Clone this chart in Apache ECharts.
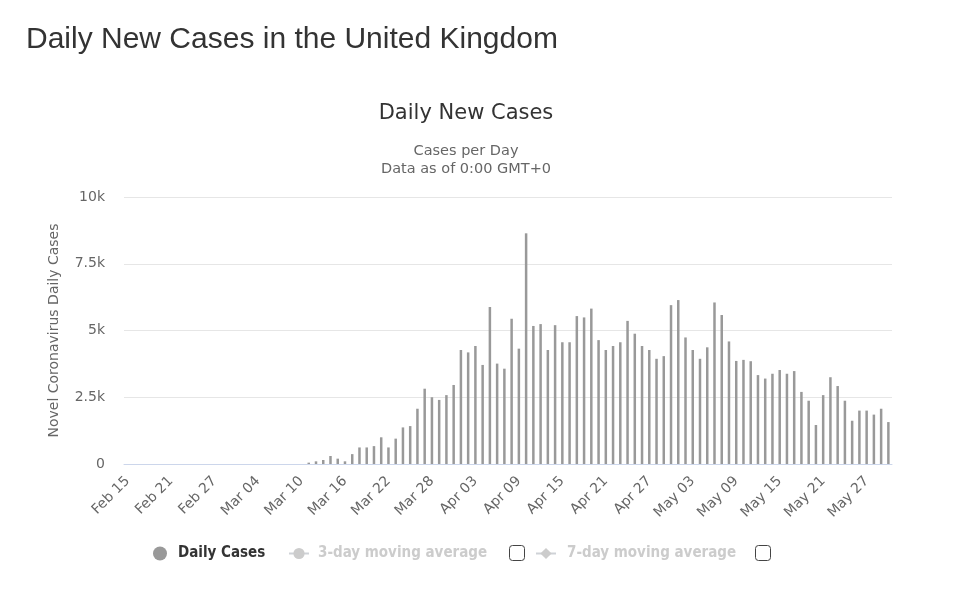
<!DOCTYPE html>
<html>
<head>
<meta charset="utf-8">
<script src="https://cdn.jsdelivr.net/npm/echarts@6/dist/echarts.min.js"></script>
<style>
html,body{margin:0;padding:0;background:#fff;}
#chart{width:969px;height:596px;}
</style>
</head>
<body>
<div id="chart"></div>
<script>
var categories = [
 "Feb 15","Feb 16","Feb 17","Feb 18","Feb 19","Feb 20","Feb 21","Feb 22","Feb 23","Feb 24","Feb 25","Feb 26","Feb 27","Feb 28","Feb 29",
 "Mar 01","Mar 02","Mar 03","Mar 04","Mar 05","Mar 06","Mar 07","Mar 08","Mar 09","Mar 10","Mar 11","Mar 12","Mar 13","Mar 14","Mar 15",
 "Mar 16","Mar 17","Mar 18","Mar 19","Mar 20","Mar 21","Mar 22","Mar 23","Mar 24","Mar 25","Mar 26","Mar 27","Mar 28","Mar 29","Mar 30","Mar 31",
 "Apr 01","Apr 02","Apr 03","Apr 04","Apr 05","Apr 06","Apr 07","Apr 08","Apr 09","Apr 10","Apr 11","Apr 12","Apr 13","Apr 14","Apr 15",
 "Apr 16","Apr 17","Apr 18","Apr 19","Apr 20","Apr 21","Apr 22","Apr 23","Apr 24","Apr 25","Apr 26","Apr 27","Apr 28","Apr 29","Apr 30",
 "May 01","May 02","May 03","May 04","May 05","May 06","May 07","May 08","May 09","May 10","May 11","May 12","May 13","May 14","May 15",
 "May 16","May 17","May 18","May 19","May 20","May 21","May 22","May 23","May 24","May 25","May 26","May 27","May 28","May 29","May 30"
];

var dailyCases = [
 0,0,0,0,0,0,0,0,0,0,0,0,0,0,0,
 0,0,0,0,0,0,0,0,0,0,50,100,150,300,200,
 100,370,620,620,670,1000,620,950,1370,1420,2070,2820,2500,2400,2580,2960,
 4270,4180,4420,3710,5880,3760,3570,5440,4320,8640,5170,5240,4270,5200,4560,
 4560,5540,5490,5820,4640,4270,4420,4560,5360,4880,4420,4270,3940,4040,5950,
 6140,4740,4270,3940,4370,6050,5580,4590,3860,3900,3850,3330,3200,3380,3520,
 3380,3480,2700,2370,1460,2580,3250,2920,2370,1620,2000,2000,1850,2070,1570
];

// moving averages are hidden (legend off) in the reference
var movingAvg3 = [];
var movingAvg7 = [];

var yTicks = {0:"0",2500:"2.5k",5000:"5k",7500:"7.5k",10000:"10k"};

var seriesNames = ["Daily Cases","3-day moving average","7-day moving average"];
var selected = {};
selected[seriesNames[0]] = true;
selected[seriesNames[1]] = false;
selected[seriesNames[2]] = false;

var chart = echarts.init(document.getElementById('chart'), null, {renderer:'canvas'});
var legendText = {fontFamily:'DejaVu Sans Condensed', fontSize:15, fontWeight:'bold', color:'#333333'};

chart.setOption({
  animation:false,
  backgroundColor:'#ffffff',
  title:[
    {text:'Daily New Cases in the United Kingdom', left:26, top:25, padding:0,
     textStyle:{fontFamily:'Liberation Sans', fontSize:30, fontWeight:'normal', color:'#333333'}},
    {text:'Daily New Cases', left:466, top:103, padding:0, textAlign:'center',
     textStyle:{fontFamily:'DejaVu Sans', fontSize:21, fontWeight:'normal', color:'#333333'}},
    {text:'Cases per Day\nData as of 0:00 GMT+0', left:466, top:142, padding:0, textAlign:'center',
     textStyle:{fontFamily:'DejaVu Sans', fontSize:14.5, fontWeight:'normal', color:'#666666', lineHeight:18}}
  ],
  legend:[
    {data:[seriesNames[0]], left:153, top:546, padding:0, icon:'circle', itemWidth:14, itemHeight:14,
     selected:selected, inactiveColor:'#cccccc', textStyle:Object.assign({}, legendText, {padding:[0,0,0,6]})},
    {data:[seriesNames[1]], left:288, top:546, padding:0, itemWidth:20, itemHeight:14,
     selected:selected, inactiveColor:'#cccccc', textStyle:Object.assign({}, legendText, {padding:[0,0,0,4]})},
    {data:[seriesNames[2]], left:535, top:546, padding:0, itemWidth:20, itemHeight:14,
     selected:selected, inactiveColor:'#cccccc', textStyle:Object.assign({}, legendText, {padding:[0,0,0,6]})}
  ],
  grid:{left:124, right:77, top:197, bottom:132, containLabel:false},
  xAxis:{
    type:'category', data:categories, boundaryGap:true,
    axisLine:{lineStyle:{color:'#ccd6eb', width:1}},
    axisTick:{show:false},
    axisLabel:{interval:5, rotate:45, margin:15, color:'#666666', fontFamily:'DejaVu Sans', fontSize:14}
  },
  yAxis:{
    type:'value', min:0, max:10000, interval:2500,
    name:'Novel Coronavirus Daily Cases', nameLocation:'middle', nameGap:63, nameRotate:90,
    nameTextStyle:{fontFamily:'DejaVu Sans', fontSize:14, color:'#666666'},
    axisLine:{show:false}, axisTick:{show:false},
    axisLabel:{margin:19, color:'#666666', fontFamily:'DejaVu Sans', fontSize:14,
      formatter:function(v){return yTicks[v] !== undefined ? yTicks[v] : v;}},
    splitLine:{lineStyle:{color:'#e6e6e6', width:1}}
  },
  series:[
    {name:seriesNames[0], type:'bar', data:dailyCases, barWidth:2.5,
     itemStyle:{color:'#999999'}},
    {name:seriesNames[1], type:'line', data:movingAvg3, symbol:'circle', symbolSize:8,
     itemStyle:{color:'#999999'}, lineStyle:{color:'#999999'}},
    {name:seriesNames[2], type:'line', data:movingAvg7, symbol:'diamond', symbolSize:9,
     itemStyle:{color:'#999999'}, lineStyle:{color:'#999999'}}
  ],
  graphic:[
    {type:'rect', shape:{x:509.5, y:545.5, width:15, height:15, r:3},
     style:{fill:'#ffffff', stroke:'#444444', lineWidth:1}},
    {type:'rect', shape:{x:755.5, y:545.5, width:15, height:15, r:3},
     style:{fill:'#ffffff', stroke:'#444444', lineWidth:1}}
  ]
});
</script>
</body>
</html>
